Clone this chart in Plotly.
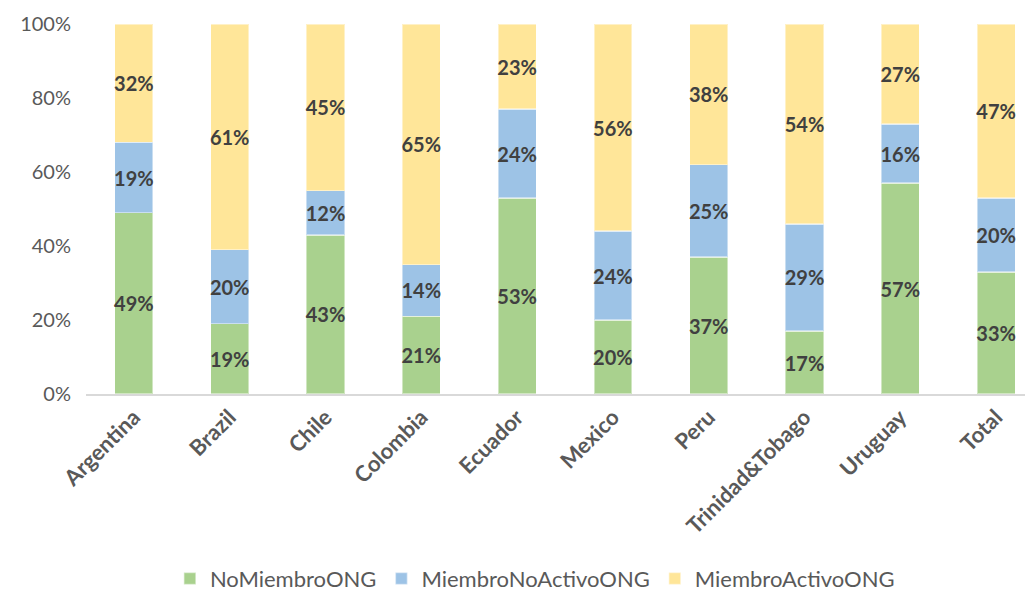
import plotly.graph_objects as go

categories = ["Argentina", "Brazil", "Chile", "Colombia", "Ecuador", "Mexico",
              "Peru", "Trinidad&Tobago", "Uruguay", "Total"]
no_miembro = [49, 19, 43, 21, 53, 20, 37, 17, 57, 33]
miembro_no_activo = [19, 20, 12, 14, 24, 24, 25, 29, 16, 20]
miembro_activo = [32, 61, 45, 65, 23, 56, 38, 54, 27, 47]

series = [
    ("NoMiembroONG", no_miembro, "#a9d18e"),
    ("MiembroNoActivoONG", miembro_no_activo, "#9dc3e6"),
    ("MiembroActivoONG", miembro_activo, "#ffe699"),
]

font_family = "Lato, 'Open Sans', sans-serif"

fig = go.Figure()
for name, vals, color in series:
    fig.add_trace(go.Bar(
        name=name,
        x=categories,
        y=[v / 100 for v in vals],
        marker=dict(color=color, line=dict(color="rgba(255,255,255,0.45)", width=1.5)),
        text=[f"<b>{v}%</b>" for v in vals],
        textposition="inside",
        insidetextanchor="middle",
        textangle=0,
        constraintext="none",
        textfont=dict(family=font_family, size=20, color="#404040"),
        width=0.4,
    ))

fig.update_layout(
    barmode="stack",
    width=1025,
    height=593,
    margin=dict(l=78, r=0, t=16, b=207, autoexpand=False),
    plot_bgcolor="white",
    paper_bgcolor="white",
    font=dict(family=font_family, color="#595959"),
    xaxis=dict(
        range=[-0.5, 9.385],
        tickangle=-45,
        tickfont=dict(family=font_family, size=22, color="#595959", weight="bold"),
        showline=True,
        linecolor="#d9d9d9",
        linewidth=1.5,
        ticks="",
        showgrid=False,
        automargin=False,
    ),
    yaxis=dict(
        range=[0, 1],
        dtick=0.2,
        tickformat=".0%",
        tickfont=dict(family=font_family, size=20, color="#595959"),
        showgrid=False,
        zeroline=False,
        ticks="",
        ticklabelstandoff=14,
        automargin=False,
    ),
    legend=dict(
        orientation="h",
        x=0.474,
        xanchor="center",
        y=-0.556,
        yanchor="bottom",
        font=dict(family=font_family, size=22, color="#595959"),
        itemwidth=30,
        traceorder="normal",
    ),
)

fig.write_html("out.html")
